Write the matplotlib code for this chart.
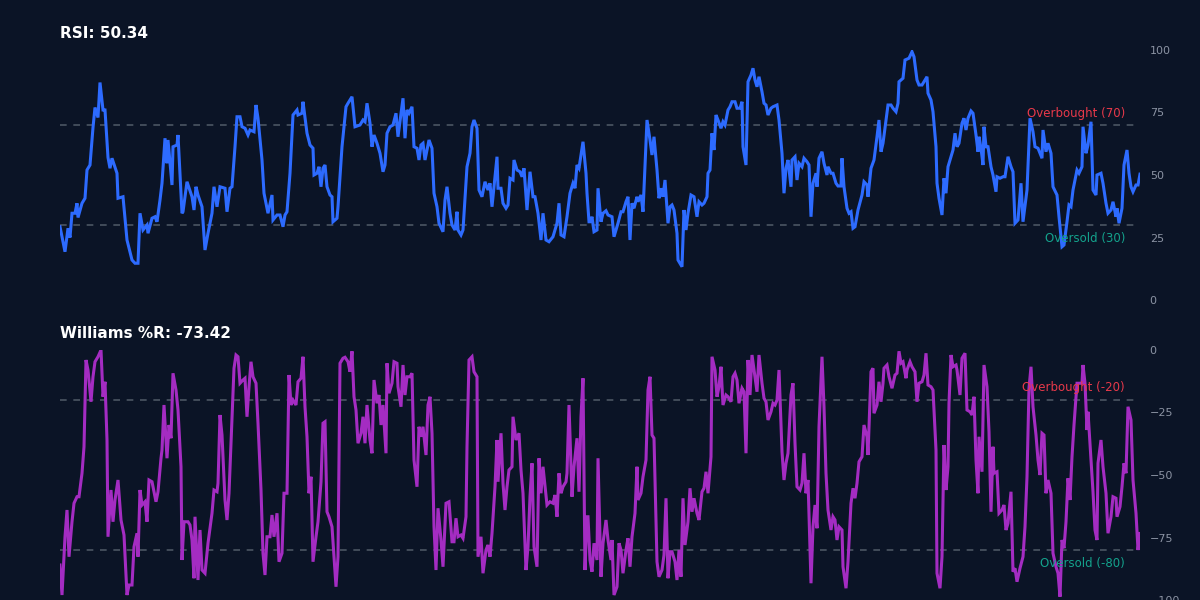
import matplotlib
matplotlib.use("Agg")
import matplotlib.pyplot as plt

rsi_days = [0,5,8,10,12,15,17,18,22,25,27,30,33,35,38,40,43,45,48,50,52,57,58,63,67,72,75,78,80,83,87,88,92,95,97,100,102,105,107,108,112,113,117,118,122,123,127,132,134,136,138,142,145,148,152,154,157,158,160,165,167,170,172,175,177,180,182,185,188,190,194,196,198,202,204,208,212,213,217,220,223,225,227,230,233,237,238,242,243,247,250,253,254,257,259,261,263,
 265,267,270,272,273,277,278,282,284,286,288,292,295,300,303,305,307,310,312,314,317,320,323,325,327,330,333,336,338,343,345,347,349,352,354,357,359,361,363,365,369,372,374,377,379,383,385,387,390,392,395,397,398,401,403,407,410,412,414,417,419,422,425,428,430,432,437,438,441,443,446,448,450,453,454,457,460,462,464,467,470,473,475,478,481,483,486,489,493,497,499,501,504,507,510,513,515,517,519,523,526,527,529,
 530,532,534,537,538,541,543,546,548,552,554,558,561,563,566,568,570,572,574,577,578,581,583,587,590,592,594,597,599,601,603,605,608,610,612,614,617,618,622,624,626,628,631,634,637,639,642,644,647,648,650,652,654,656,658,661,663,665,668,670,672,675,677,680,682,683,686,688,691,693,695,697,699,702,704,706,708,711,713,717,719,722,724,726,728,731,732,735,737,739,742,744,747,749,751,753,756,757,759,762,764,767,768,771,773,776,778,781,782,784,787,789,791,
 793,795,798,802,804,807,808,811,814,817,819,821,823,826,828,831,833,836,838,839,843,845,849,852,854,857,859,862,864,867,868,871,873,876,877,879,882,884,886,888,891,893,895,897,899,902,904,906,908,911,913,916,918,919,921,923,924,926,928,931,933,936,937,940,943,945,948,951,953,955,958,961,963,967,970,973,975,978,982,983,986,988,991,993,997,999,1002,1004,1007,1009,1011,1013,1017,1019,1022,1023,1026,1028,1031,1033,1036,1037,1041,1043,1046,1048,1051,1053,1056,1057,1059,1062,1064,1067,1069,1071,1073,1076,1078,1080]
rsi_vals = [29.3,19.3,28.7,25,34.7,34.7,38.7,33,38.7,40.7,52,54,69,77,73,87,76,76,57,52.7,56.7,50.7,40.7,41.3,24,16,14.7,14.7,34.7,28,30,26.7,32.7,33.3,31.3,40,46.7,64.7,54.7,64,46,61.3,62,66,34.7,35.3,47.3,41.3,36,45.3,42,37.3,20,26.7,34.7,45.3,37.3,40,45.3,44.7,35.3,44.7,45.3,61.3,73.3,73.3,69.3,68.7,66,68,67.3,78,72.7,56,42.7,34.7,42,32,34,34,29.3,34,35.3,50.7,74,76,74,74.7,79.3,66.7,62,60.7,50,50.7,53.3,45.3,52.7,
 54,45.3,42,41.3,31.3,32.7,37.3,61.3,69.3,77.3,78.7,81.3,69.3,70,72,71.3,78.7,70.7,61.3,66,62.7,58.7,51.3,54,66.7,69.3,70,74.7,65.3,80.7,64.7,76,74.7,77.3,61.3,60.7,56,62,62.7,56,64,60.7,42.7,37.3,30.7,27.3,40,45.3,34.7,30,28,35.3,28,26,28,53.3,58.7,69.3,72,68.7,44,41.3,47.3,44,46.7,37.3,57.3,44.7,44.7,38.7,36.7,38,48.7,48,56,52,51.3,49.3,52.7,36,51.3,41.3,41.3,34.7,24,34.7,24,23.3,25.3,30.7,38.7,26,25.3,33.3,42.7,46.7,44.7,54,52.7,63.3,50.7,42.7,31.3,
 31.3,33.3,27.3,28,44.7,31.3,34.7,35.7,34,33.3,25.3,30.7,35.3,35.3,39.3,41.3,24,38.7,36.7,41.3,39.3,42,35.3,72,64,58,65.3,52,40.7,44.7,41.3,48,30.7,37.3,38,36,26.7,16,13.3,36,28,34.7,42,41.3,33.3,39.3,38,38.7,41.3,50.7,52,66.7,60,74,72,68.7,71.3,70,76,77.3,79.3,79.3,76.7,76.7,79.3,61.3,54,87.3,90,92.7,88,85.3,89.3,83.3,78.7,78,74,76.7,77.3,78,72,58.7,42.7,52.7,56,45.3,56,57.3,48,54.7,53.3,56.7,55.3,54,33.3,46.7,50.7,45.3,56.7,59.3,54.7,50,53.3,50.7,50.7,46.7,45.6,45.6,56.7,45.3,36.7,34.7,35.3,
 28.7,29.3,36,42,47.3,46,41.3,52.7,56,65.3,72,59.3,62.7,72,78,78,76.7,75.3,78.7,87.3,88.7,96,96.7,99.3,97.3,88,86,86,87.3,89.3,82.7,80,75.3,61.3,46.7,40.7,34,48.7,42.7,53.3,57.3,60,66.7,61.3,62.7,70.7,72.7,68,72.7,75.6,74.7,66,59.3,65.3,60.7,54,69.3,61.3,61.3,53.3,50,43.3,49.3,48.7,49.3,49.3,57.3,53.3,51.3,30.7,32,46.7,31.3,44,72.7,67.3,61.3,60.7,56.7,68,59.3,62.7,58.7,45.3,42,33.3,21.3,22,31.3,38,37.3,44,52,50.7,53.3,69.3,58.7,62,71.3,44,42,50,50.7,46.7,38.7,34.7,36,39.3,33.3,36.7,30.7,36.7,54,60,50.7,45.3,43.3,46,46,50.34]

wr_days = [0,2,5,7,9,12,14,17,19,22,24,26,28,31,33,35,38,41,43,45,47,48,51,53,55,58,61,64,67,69,72,74,77,78,80,82,85,87,89,92,96,98,101,102,104,107,109,111,113,116,118,121,122,124,128,130,132,134,135,138,140,142,145,148,152,154,157,158,160,162,165,167,169,172,174,176,178,180,183,185,187,189,191,193,196,198,201,203,205,207,210,212,214,217,219,222,224,227,229,231,233,236,238,241,243,245,247,249,251,253,256,258,261,263,
 265,267,269,272,274,276,278,280,283,285,288,290,292,294,296,298,301,303,305,307,310,312,314,317,319,321,323,326,327,329,332,334,337,338,341,343,345,347,350,352,354,357,359,361,363,366,368,370,372,374,376,378,381,383,386,389,392,394,396,398,401,403,406,407,409,412,414,417,418,421,423,426,428,430,432,435,437,438,441,443,445,447,449,452,453,456,459,461,463,466,468,470,472,474,477,479,481,483,487,490,493,495,497,499,501,503,506,507,509,512,514,517,519,521,523,525,
 527,528,530,532,534,537,538,541,543,546,548,551,552,554,557,559,561,563,566,568,570,572,575,577,578,581,583,586,588,590,592,594,597,599,602,604,606,608,610,612,615,617,619,621,623,625,628,630,632,634,637,639,642,644,646,648,651,652,655,657,659,661,663,666,668,671,673,675,677,679,682,684,686,688,690,692,695,697,699,702,704,706,708,711,713,715,717,719,722,724,726,728,731,733,735,737,740,742,744,746,748,751,753,755,757,759,762,764,766,768,771,773,775,777,779,782,783,786,788,791,793,
 795,797,799,802,804,807,808,811,813,814,817,819,821,823,824,827,829,832,835,837,839,841,843,846,847,850,852,855,857,859,862,864,866,868,871,873,876,877,880,882,884,886,888,889,891,893,896,897,900,902,905,907,910,912,914,916,918,919,922,924,927,929,931,933,934,937,939,942,944,946,948,951,953,955,957,960,963,965,967,969,971,973,976,978,980,982,984,986,988,991,993,996,998,1000,1002,1004,1006,1008,1010,1012,1014,1017,1019,1022,1023,1025,1027,1028,1031,1033,1035,1037,1038,1041,1043,1046,1048,1051,1053,1056,1057,1060,1062,1064,1066,1068,1071,1073,1076,1078,1080]
wr_vals = [-86,-98,-74.7,-64,-82.7,-68.7,-61.3,-58.7,-58.7,-49.3,-38.7,-4,-8,-20.7,-10.7,-4.7,-2.7,0,-18.7,-12.7,-36,-74.7,-56,-68.7,-60,-52,-68,-74,-98,-94,-94,-78.7,-73.3,-82.7,-56,-62,-60.7,-68.7,-52,-52.7,-60.7,-56.7,-43.3,-40,-22,-43.3,-30,-35.3,-9.3,-16,-24,-46.7,-84,-68.7,-68.7,-70,-76,-91.3,-66.7,-92,-72,-88,-89.3,-77.3,-65.3,-56,-56.7,-53.3,-26,-34,-60,-68,-57.3,-26.7,-7.3,-2,-2.7,-13.3,-12,-11.3,-26.7,-14.7,-4.7,-10.7,-13.3,-29.3,-56,-81.3,-90,-74.7,-74.7,-66,-74.7,-65.3,-84.7,-81.3,-57.3,-57.3,-10,-22,-20,-22,-12.7,-11.3,-2.7,-22.7,-34.7,-57.3,-50.7,-84.7,-74.7,-68.7,-52.7,-29.3,
 -28.7,-64.7,-66.7,-70.7,-82.7,-94.7,-82.7,-5.3,-3.3,-2.9,-4.7,-8.7,-0.5,-18.7,-24,-37.3,-33.3,-26.7,-37.3,-22,-36,-41.3,-12,-21.3,-18,-30,-22,-41.3,-5.3,-17.3,-13.3,-4.7,-5.3,-14.7,-22.7,-6,-18,-10.7,-10.7,-9.3,-44,-54.7,-30.7,-34.7,-30.7,-42,-22,-18.7,-33.3,-70.7,-88,-63.3,-76,-86.7,-61.3,-60.7,-76.7,-76.7,-67.3,-74.7,-74,-75.3,-66.7,-38.7,-4,-2.7,-8.7,-10.7,-82.7,-74.7,-89.3,-80,-78,-82.7,-73.3,-54.7,-36,-52.7,-33.3,-53.3,-64,-54.7,-48,-46.7,-26.7,-36,-33.3,-48,-57.3,-88,-78.7,-58.7,-45.3,-78.7,-86.7,-43.3,-57.3,-46.7,-62,-60.7,-61.3,-58,-66.7,-49.3,-57.3,-54.7,-52.7,-49.3,-22,-58.7,-46.7,-35.3,-56.7,-26.7,-11.3,-88,
 -66.7,-66.7,-84,-88.7,-77.3,-84,-43.3,-90.7,-77.3,-68,-76,-84,-76,-98,-94.7,-77.3,-80,-89.3,-80,-75.3,-86.7,-74.7,-65.3,-46.7,-60,-57.3,-50.7,-44,-16,-10.7,-34,-35.3,-84.7,-90.7,-88,-82,-59.3,-91.3,-80.7,-80.7,-84.7,-92,-80,-90.7,-59.3,-78,-68.7,-55.3,-64.7,-59.3,-65.3,-68,-56.7,-55.3,-48.7,-57.3,-42.7,-2.7,-8,-18.7,-14.7,-6.7,-22,-18,-18.7,-20.7,-10.7,-9.3,-12,-21.3,-15.3,-16.7,-41.3,-4,-18,-2,-10.7,-16.7,-2,-13.3,-19.3,-20.7,-28,-24.7,-21.3,-22,-20,-8,-40.7,-52,-45.3,-41.3,-18,-13.3,-37.3,-54.7,-56,-53.3,-41.3,-57.3,-52,-93.3,-70.7,-62,-71.3,-30.7,-2.7,-22.7,-49.3,-64,-72,-66.7,-68,-76,-70.7,-72,-86.7,-95.3,-84.7,-61.3,-55.3,
 -59.3,-53.3,-44.7,-42.7,-30,-34.7,-42,-8.7,-7.3,-25.3,-22,-12.7,-20.7,-13.3,-7.3,-6,-10.7,-15.3,-10,-9.3,-0.5,-5.3,-4.7,-11.3,-8,-4.7,-6.7,-8.7,-20.7,-13.3,-12.7,-10,-1.3,-14,-14.7,-16,-40,-89.3,-95.3,-82.7,-38,-56,-46.7,-21.3,-2,-6.7,-6,-8,-18,-3.3,-1.3,-24,-24.7,-26,-18.7,-44,-57.3,-34.7,-48.7,-6,-14.7,-32.7,-64.7,-38.7,-49.3,-48.7,-65.3,-64,-62,-72,-69.3,-56.7,-88.7,-87.3,-92.7,-87.3,-82.7,-70.7,-50.7,-15.3,-6.7,-22.7,-34,-44,-50,-33.3,-34,-57.3,-52,-57.3,-81.3,-86.7,-89.3,-98.7,-76,-79.3,-68.7,-51.3,-60,-42.7,-30,-13.3,-13.3,-13.3,-6,-13.3,-32,-24.7,-44,-56.7,-72,-76,-45.3,-36,-46.7,-57.3,-73.3,-66.7,-58.7,-59.3,-66.7,-62.7,-54.7,-45.3,-49.3,-22.7,-28,-52,-65.3,-80,-73.42]

rsi_ticks = [0, 25, 50, 75, 100]
wr_ticks = [-100, -75, -50, -25, 0]

BG = "#0b1426"
GRID = "#4b5563"
TICK = "#8b93a3"
RED = "#e8394a"
TEAL = "#14a38d"

fig = plt.figure(figsize=(12, 6), dpi=100, facecolor=BG)
ax1 = fig.add_axes([0.05, 0.5, 0.9, 1 - 0.5 - 50/600])
ax2 = fig.add_axes([0.05, 0.0, 0.9, 250/600])

def style(ax, ticks, lo, hi):
    ax.set_facecolor(BG)
    for s in ax.spines.values():
        s.set_visible(False)
    ax.set_xlim(0, 1080)
    ax.set_ylim(lo, hi)
    ax.set_xticks([])
    ax.yaxis.tick_right()
    ax.set_yticks(ticks)
    ax.tick_params(axis='y', length=0, pad=7, labelsize=8, labelcolor=TICK)

style(ax1, rsi_ticks, 0, 100)
style(ax2, wr_ticks, -100, 0)

for ax, lv in ((ax1, 70), (ax1, 30), (ax2, -20), (ax2, -80)):
    ax.axhline(lv, color=GRID, ls=(0, (4, 4)), lw=1.2, xmax=1075/1080)

ax1.plot(rsi_days, rsi_vals, color="#2d6bff", lw=2.2, solid_joinstyle='miter')
ax2.plot(wr_days, wr_vals, color="#a42cc2", lw=2.2, solid_joinstyle='miter')

ax1.text(1065, 72, "Overbought (70)", color=RED, fontsize=8.5, ha='right', va='bottom')
ax1.text(1065, 24.5, "Oversold (30)", color=TEAL, fontsize=8.5, ha='right', va='center')
ax2.text(1065, -15, "Overbought (-20)", color=RED, fontsize=8.5, ha='right', va='center')
ax2.text(1065, -85.6, "Oversold (-80)", color=TEAL, fontsize=8.5, ha='right', va='center')

fig.text(0.05, 1 - 34/600, f"RSI: {rsi_vals[-1]:.2f}", color="white", fontsize=11, fontweight='bold', va='center')
fig.text(0.05, 1 - 334/600, f"Williams %R: {wr_vals[-1]:.2f}", color="white", fontsize=11, fontweight='bold', va='center')

fig.savefig("out.png", dpi=100, facecolor=BG)
